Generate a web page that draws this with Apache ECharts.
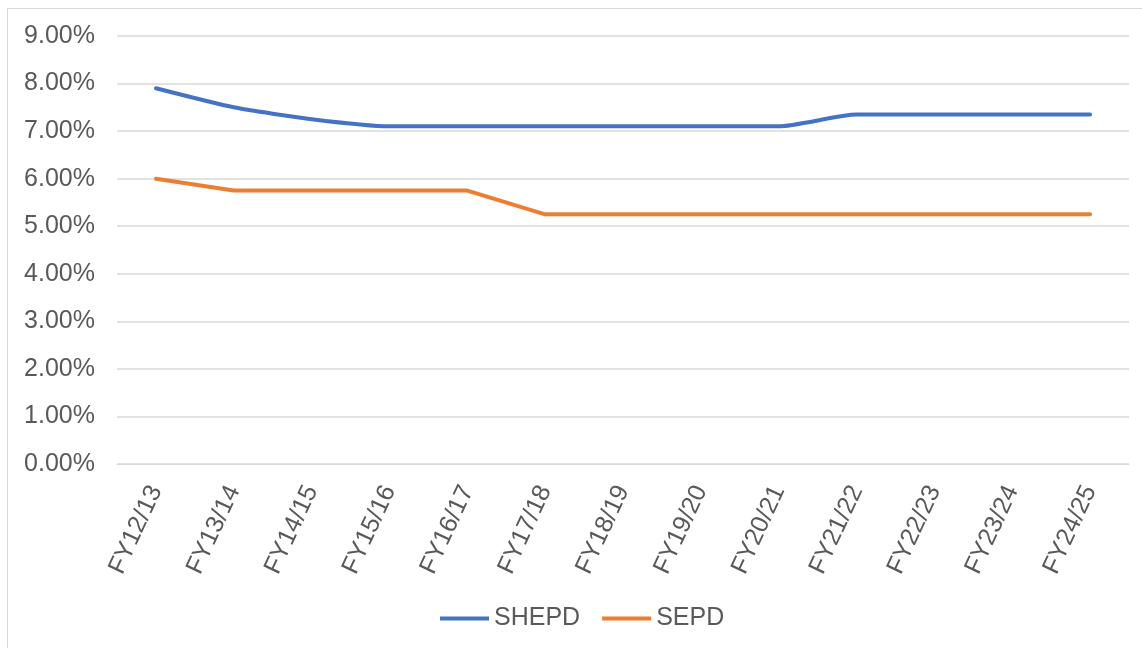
<!DOCTYPE html>
<html>
<head>
<meta charset="utf-8">
<script src="https://cdn.jsdelivr.net/npm/echarts@6/dist/echarts.min.js"></script>
<style>
  html, body { margin: 0; padding: 0; background: #fff; }
  #frame {
    position: absolute; left: 7px; top: 8px; width: 1160px; height: 700px;
    border: 1px solid #d9d9d9; box-sizing: border-box;
  }
  #chart { position: absolute; left: 0; top: 0; width: 1142px; height: 648px; }
</style>
</head>
<body>
<div id="frame"></div>
<div id="chart"></div>
<script>
const categories = ['FY12/13', 'FY13/14', 'FY14/15', 'FY15/16', 'FY16/17', 'FY17/18', 'FY18/19',
  'FY19/20', 'FY20/21', 'FY21/22', 'FY22/23', 'FY23/24', 'FY24/25']
const shepd = [7.9, 7.5, 7.25, 7.1, 7.1, 7.1, 7.1, 7.1, 7.1, 7.35, 7.35, 7.35, 7.35]
const sepd = [6.0, 5.75, 5.75, 5.75, 5.75, 5.25, 5.25, 5.25, 5.25, 5.25, 5.25, 5.25, 5.25]

const font = 'Arial, "Liberation Sans", sans-serif'
const chart = echarts.init(document.getElementById('chart'))
chart.setOption({
  animation: false,
  textStyle: { fontFamily: font },
  grid: { left: 117, right: 13, top: 36, bottom: 184, containLabel: false },
  legend: {
    bottom: 12,
    left: 435,
    itemWidth: 49,
    itemHeight: 14,
    itemGap: 22,
    textStyle: { color: '#595959', fontSize: 25, fontFamily: font },
    data: [
      { name: 'SHEPD', icon: 'path://M0,6 L49,6 L49,10 L0,10 Z' },
      { name: 'SEPD', icon: 'path://M0,6 L49,6 L49,10 L0,10 Z' }
    ]
  },
  xAxis: {
    type: 'category',
    data: categories,
    boundaryGap: true,
    axisLine: { lineStyle: { color: '#d9d9d9', width: 1 } },
    axisTick: { show: false },
    axisLabel: {
      rotate: 65,
      interval: 0,
      margin: 23,
      color: '#595959',
      fontSize: 25,
      fontFamily: font
    }
  },
  yAxis: {
    type: 'value',
    min: 0,
    max: 9,
    interval: 1,
    axisLine: { show: false },
    axisTick: { show: false },
    splitLine: { lineStyle: { color: '#d9d9d9', width: 1.5 } },
    axisLabel: {
      margin: 22,
      color: '#595959',
      fontSize: 25,
      fontFamily: font,
      formatter: v => v.toFixed(2) + '%'
    }
  },
  series: [
    {
      name: 'SHEPD',
      type: 'line',
      data: shepd,
      showSymbol: false,
      smooth: 0.2,
      lineStyle: { color: '#4472c4', width: 4, cap: 'round' },
      itemStyle: { color: '#4472c4' }
    },
    {
      name: 'SEPD',
      type: 'line',
      data: sepd,
      showSymbol: false,
      lineStyle: { color: '#ed7d31', width: 4, cap: 'round' },
      itemStyle: { color: '#ed7d31' }
    }
  ]
})
</script>
</body>
</html>
